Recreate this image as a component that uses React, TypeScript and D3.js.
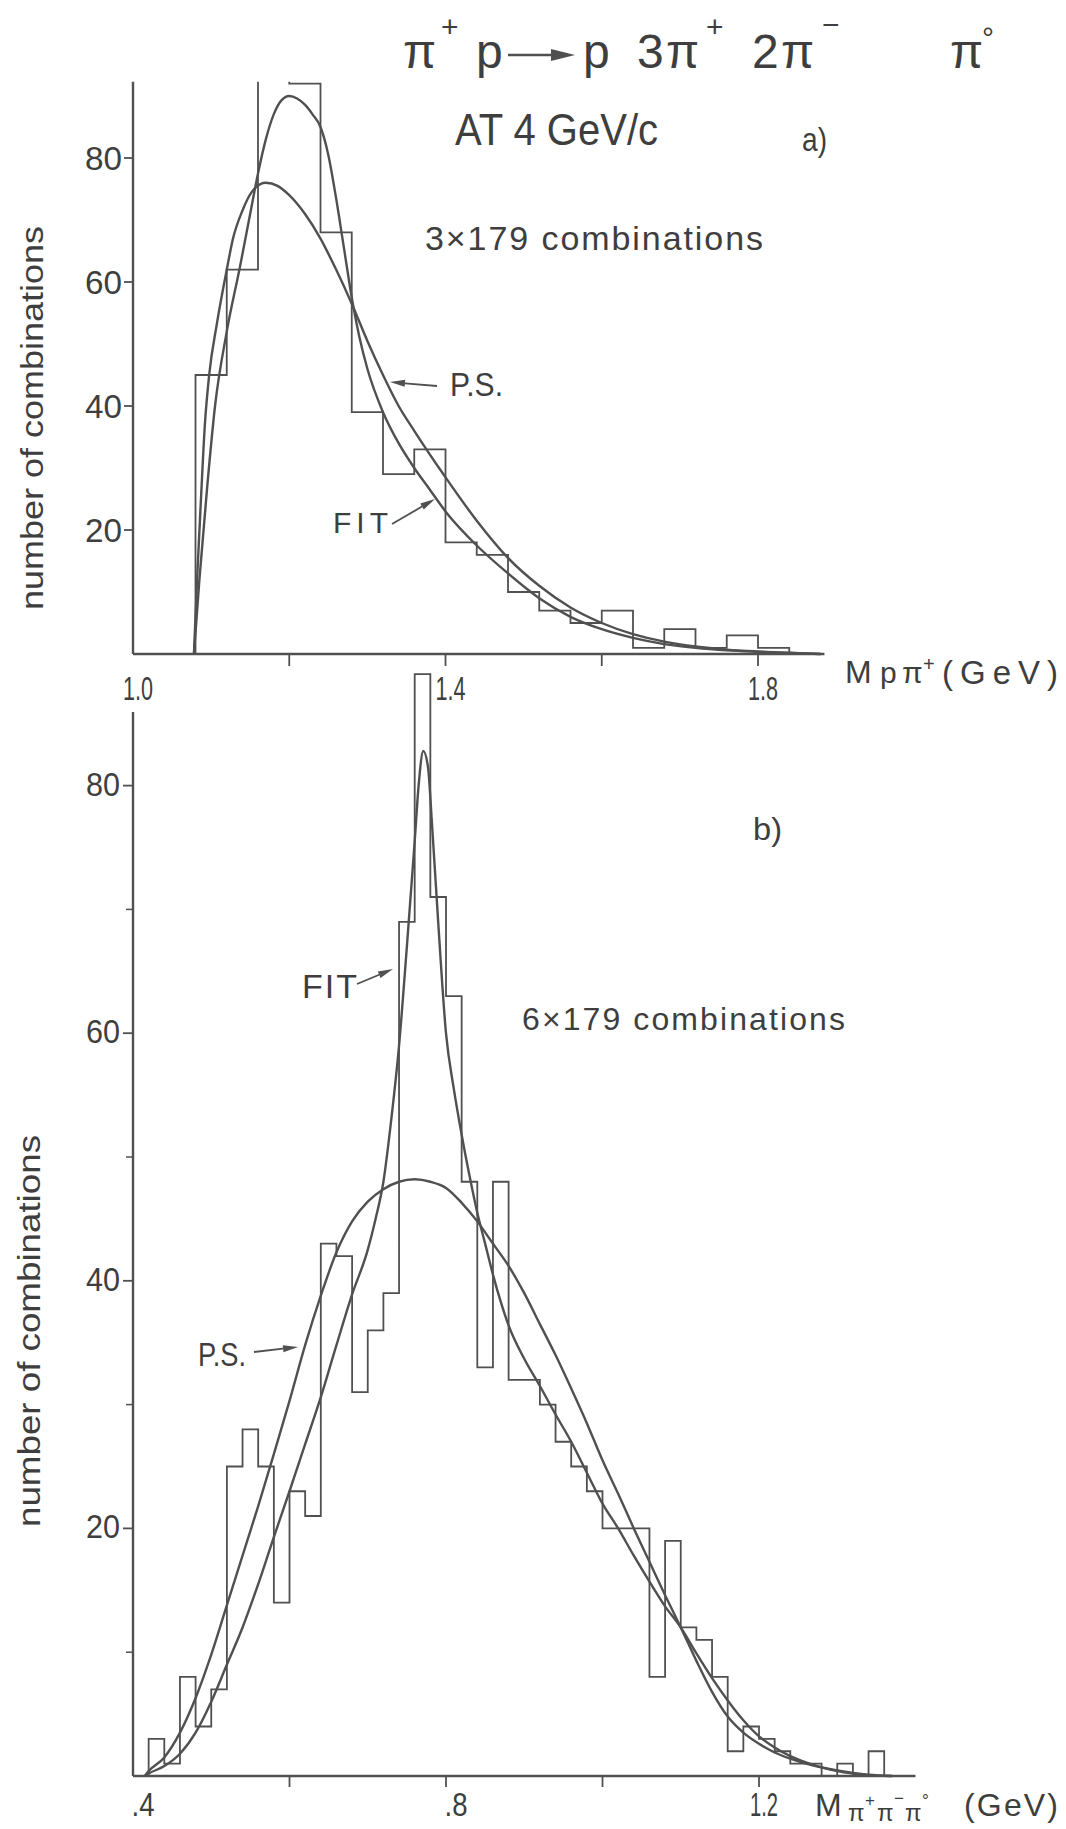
import React from 'react'
import * as d3 from 'd3'

const W = 1066
const H = 1829

// panel a) M(p pi+) , 0.04 GeV bins
const binStartsA = [1.08, 1.12, 1.16, 1.2, 1.24, 1.28, 1.32, 1.36, 1.4, 1.44, 1.48, 1.52, 1.56, 1.6, 1.64, 1.68, 1.72, 1.76, 1.8]
const countsA = [45, 62, 96, 92, 68, 39, 29, 33, 18, 16, 10, 7, 5, 7, 1, 4, 1, 3, 1]
const psXA = [1.078, 1.082, 1.087, 1.092, 1.0975, 1.107, 1.12, 1.128, 1.14, 1.155, 1.17, 1.185, 1.2, 1.22, 1.24, 1.26, 1.28, 1.3, 1.32, 1.34, 1.36, 1.4, 1.44, 1.48, 1.52, 1.56, 1.6, 1.64, 1.68, 1.72, 1.76, 1.8, 1.84, 1.88]
const psYA = [0, 12, 25, 37, 45, 53, 62, 67, 71.5, 75, 76, 75.5, 74, 71, 67, 62, 56.5, 50.5, 45, 40, 36, 28.5, 21.5, 15.5, 11, 7.5, 5, 3.2, 2, 1.2, 0.7, 0.4, 0.2, 0]
const fitXA = [1.078, 1.085, 1.095, 1.105, 1.12, 1.137, 1.15, 1.16, 1.17, 1.18, 1.19, 1.2, 1.21, 1.22, 1.23, 1.24, 1.25, 1.26, 1.27, 1.28, 1.29, 1.3, 1.32, 1.34, 1.36, 1.38, 1.4, 1.44, 1.48, 1.52, 1.56, 1.6, 1.64, 1.68, 1.72, 1.76, 1.8, 1.84, 1.88]
const fitYA = [0, 12, 27, 40, 52, 62.5, 71, 77.5, 83, 87, 89.3, 90, 89.6, 88.6, 87, 85, 80.5, 73.5, 65.5, 57.5, 51, 46, 39, 34, 30, 26.5, 23, 17.5, 13, 9, 6, 4, 2.6, 1.6, 1, 0.6, 0.35, 0.15, 0]
const yTicksA = [20, 40, 60, 80]
const xTicksA = [1.2, 1.4, 1.6, 1.8]
const xLabelsA = ['1.0', '1.4', '1.8']
const xLabelValsA = [1.0, 1.4, 1.8]

// panel b) M(pi+ pi- pi0), 0.02 GeV bins
const binStartsB = [0.42, 0.44, 0.46, 0.48, 0.5, 0.52, 0.54, 0.56, 0.58, 0.6, 0.62, 0.64, 0.66, 0.68, 0.7, 0.72, 0.74, 0.76, 0.78, 0.8, 0.82, 0.84, 0.86, 0.88, 0.9, 0.92, 0.94, 0.96, 0.98, 1.0, 1.02, 1.04, 1.06, 1.08, 1.1, 1.12, 1.14, 1.16, 1.18, 1.2, 1.22, 1.24, 1.26, 1.28, 1.3, 1.32, 1.34]
const countsB = [3, 1, 8, 4, 7, 25, 28, 25, 14, 23, 21, 43, 42, 31, 36, 39, 69, 89, 71, 63, 48, 33, 48, 32, 32, 30, 27, 25, 23, 20, 20, 20, 8, 19, 12, 11, 8, 2, 4, 3, 2, 1, 1, 0, 1, 0, 2]
const psXB = [0.415, 0.42, 0.44, 0.46, 0.48, 0.5, 0.52, 0.54, 0.56, 0.58, 0.6, 0.62, 0.64, 0.66, 0.68, 0.7, 0.72, 0.74, 0.76, 0.78, 0.8, 0.82, 0.84, 0.86, 0.88, 0.9, 0.92, 0.94, 0.96, 0.98, 1.0, 1.02, 1.04, 1.06, 1.08, 1.1, 1.12, 1.14, 1.16, 1.18, 1.2, 1.22, 1.24, 1.26, 1.28, 1.3, 1.32, 1.34, 1.37]
const psYB = [0, 0.4, 1.5, 3.5, 6.3, 9.8, 13.8, 17.8, 21.8, 26, 30.3, 34.8, 38.8, 42.3, 44.8, 46.4, 47.4, 48, 48.2, 48, 47.5, 46.3, 44.8, 43, 41.2, 39, 36.5, 34, 31.3, 28.5, 25.5, 22.8, 20, 17.3, 14.6, 12, 9.3, 6.8, 4.8, 3.5, 2.6, 1.9, 1.4, 1, 0.7, 0.45, 0.25, 0.1, 0]
const fitXB = [0.415, 0.42, 0.44, 0.46, 0.48, 0.5, 0.52, 0.54, 0.56, 0.58, 0.6, 0.62, 0.64, 0.66, 0.68, 0.7, 0.71, 0.72, 0.73, 0.74, 0.75, 0.76, 0.765, 0.771, 0.777, 0.782, 0.79, 0.8, 0.81, 0.82, 0.83, 0.84, 0.85, 0.86, 0.87, 0.88, 0.9, 0.92, 0.94, 0.96, 0.98, 1.0, 1.02, 1.04, 1.06, 1.08, 1.1, 1.12, 1.14, 1.16, 1.18, 1.2, 1.22, 1.24, 1.26, 1.28, 1.3, 1.32, 1.34, 1.37]
const fitYB = [0, 0.2, 0.8, 1.8, 3.5, 6, 9, 12, 15.5, 19.3, 23, 26.8, 30.6, 34.8, 38.9, 42.5, 45, 48, 53, 59, 67, 75.5, 80, 82.8, 81.5, 77, 69, 60, 55.5, 51.8, 48.5, 45.5, 43, 40.5, 38.3, 36.4, 33.7, 31.5, 29.2, 27, 24.5, 22, 20, 17.8, 15.7, 13.7, 12, 9.9, 7.9, 6.1, 4.5, 3.2, 2.3, 1.6, 1.1, 0.7, 0.4, 0.2, 0.05, 0]
const yTicksB = [20, 40, 60, 80]
const yMinorB = [10, 30, 50, 70]
const xTicksB = [0.6, 0.8, 1.0, 1.2]
const xLabelsB = ['.4', '.8', '1.2']
const xLabelValsB = [0.4, 0.8, 1.2]

const INK = '#505050'
const TXT = '#3e3e3e'
const FONT = '"Liberation Sans", Arial, sans-serif'

const xA = d3.scaleLinear().domain([1.0, 1.8]).range([133, 758])
const yA = d3.scaleLinear().domain([0, 80]).range([654, 158])
const xB = d3.scaleLinear().domain([0.4, 1.2]).range([133, 759])
const yB = d3.scaleLinear().domain([0, 80]).range([1776, 785.6])

const stepPath = (starts, counts, width, x, y) => {
  const pts = [[x(starts[0]), y(0)]]
  starts.forEach((s, i) => {
    pts.push([x(s), y(counts[i])])
    pts.push([x(s + width), y(counts[i])])
  })
  pts.push([x(starts[starts.length - 1] + width), y(0)])
  return d3.line()(pts)
}

const curvePath = (xs, ys, x, y) =>
  d3
    .line()
    .x((d, i) => x(xs[i]))
    .y(d => y(d))
    .curve(d3.curveMonotoneX)(ys)

const Arrow = ({ x1, y1, x2, y2, len = 15, hw = 3.5, w = 1.8 }) => {
  const a = Math.atan2(y2 - y1, x2 - x1)
  const bx = x2 - len * Math.cos(a)
  const by = y2 - len * Math.sin(a)
  const px = -Math.sin(a) * hw
  const py = Math.cos(a) * hw
  return (
    <g>
      <line x1={x1} y1={y1} x2={bx} y2={by} stroke={INK} strokeWidth={w} />
      <path d={`M${x2},${y2}L${bx + px},${by + py}L${bx - px},${by - py}Z`} fill={INK} />
    </g>
  )
}

const T = ({ x, y, size, len, children, anchor = 'start', rotate = 0, adjust = 'spacingAndGlyphs' }) => (
  <text
    x={x}
    y={y}
    fontSize={size}
    textLength={len}
    lengthAdjust={adjust}
    textAnchor={anchor}
    transform={rotate ? `rotate(${rotate},${x},${y})` : undefined}
  >
    {children}
  </text>
)

const App = () => {
  const topA = yA(92.3)
  return (
    <svg
      width={W}
      height={H}
      style={{ position: 'absolute', left: 0, top: 0, background: '#fff' }}
      fontFamily={FONT}
      fill={TXT}
    >
      <rect width={W} height={H} fill="#fff" />
      <defs>
        <clipPath id="clipA">
          <rect x={0} y={topA} width={W} height={yA(0) - topA + 2} />
        </clipPath>
      </defs>

      {/* title */}
      <g fontSize={48}>
        <text x={403} y={68}>π</text>
        <text x={441} y={37} fontSize={30}>+</text>
        <text x={476} y={68}>p</text>
        <text x={583} y={68}>p</text>
        <text x={637} y={68}>3</text>
        <text x={666} y={68}>π</text>
        <text x={706} y={37} fontSize={30}>+</text>
        <text x={752} y={68}>2</text>
        <text x={781} y={68}>π</text>
        <text x={822} y={35} fontSize={30}>−</text>
        <text x={950} y={68}>π</text>
        <text x={982} y={48} fontSize={30}>°</text>
      </g>
      <Arrow x1={508} y1={55} x2={575} y2={55} len={24} hw={6} w={2.4} />

      {/* ---- panel a ---- */}
      <T x={455} y={145} size={44} len={203}>AT 4 GeV/c</T>
      <T x={802} y={151} size={34} len={25}>a)</T>
      <T x={425} y={250} size={34} len={338} adjust="spacing">3×179 combinations</T>
      <T x={450} y={396} size={33} len={53}>P.S.</T>
      <Arrow x1={437} y1={386} x2={390} y2={382} />
      <T x={333} y={533} size={30} len={55} adjust="spacing">FIT</T>
      <Arrow x1={392} y1={524} x2={435} y2={499} />
      <T x={43} y={418} size={32} len={384} anchor="middle" rotate={-90}>number of combinations</T>

      <g clipPath="url(#clipA)" fill="none">
        <path d={stepPath(binStartsA, countsA, 0.04, xA, yA)} stroke={INK} strokeWidth={1.8} />
        <path d={curvePath(psXA, psYA, xA, yA)} stroke={INK} strokeWidth={2.4} />
        <path d={curvePath(fitXA, fitYA, xA, yA)} stroke={INK} strokeWidth={2.4} />
      </g>
      <g stroke={INK} strokeWidth={2.4}>
        <line x1={xA(1.0)} y1={yA(0)} x2={xA(1.0)} y2={topA} />
        <line x1={xA(1.0)} y1={yA(0)} x2={xA(1.885)} y2={yA(0)} />
        {yTicksA.map(v => (
          <line key={v} x1={xA(1.0) - 9} x2={xA(1.0)} y1={yA(v)} y2={yA(v)} strokeWidth={1.8} />
        ))}
        {xTicksA.map(v => (
          <line key={v} x1={xA(v)} x2={xA(v)} y1={yA(0)} y2={yA(0) + 12} strokeWidth={1.8} />
        ))}
      </g>
      {yTicksA.map(v => (
        <T key={v} x={122} y={yA(v) + 12} size={34} len={37} anchor="end">{String(v)}</T>
      ))}
      {xLabelsA.map((s, i) => (
        <T key={s} x={xA(xLabelValsA[i]) + 5} y={700} size={34} len={30} anchor="middle">{s}</T>
      ))}
      <g>
        <text x={845} y={683} fontSize={32}>M</text>
        <text x={880} y={683} fontSize={30}>p</text>
        <text x={902} y={683} fontSize={30}>π</text>
        <text x={923} y={671} fontSize={20}>+</text>
        <T x={942} y={684} size={33} len={116} adjust="spacing">(GeV)</T>
      </g>

      {/* ---- panel b ---- */}
      <T x={753} y={840} size={32} len={29}>b)</T>
      <T x={522} y={1030} size={32} len={323} adjust="spacing">6×179 combinations</T>
      <T x={302} y={998} size={34} len={55} adjust="spacing">FIT</T>
      <Arrow x1={357} y1={984} x2={393} y2={969} />
      <T x={198} y={1366} size={34} len={48}>P.S.</T>
      <Arrow x1={254} y1={1352} x2={298} y2={1347} />
      <T x={40} y={1331} size={32} len={392} anchor="middle" rotate={-90}>number of combinations</T>

      <g fill="none">
        <path d={stepPath(binStartsB, countsB, 0.02, xB, yB)} stroke={INK} strokeWidth={1.8} />
        <path d={curvePath(psXB, psYB, xB, yB)} stroke={INK} strokeWidth={2.4} />
        <path d={curvePath(fitXB, fitYB, xB, yB)} stroke={INK} strokeWidth={2.4} />
      </g>
      <g stroke={INK} strokeWidth={2.4}>
        <line x1={xB(0.4)} y1={yB(0)} x2={xB(0.4)} y2={712} />
        <line x1={xB(0.4)} y1={yB(0)} x2={xB(1.4)} y2={yB(0)} />
        {yTicksB.map(v => (
          <line key={v} x1={xB(0.4) - 10} x2={xB(0.4)} y1={yB(v)} y2={yB(v)} strokeWidth={1.8} />
        ))}
        {yMinorB.map(v => (
          <line key={v} x1={xB(0.4) - 7} x2={xB(0.4)} y1={yB(v)} y2={yB(v)} strokeWidth={1.5} />
        ))}
        {xTicksB.map(v => (
          <line key={v} x1={xB(v)} x2={xB(v)} y1={yB(0)} y2={yB(0) + 11} strokeWidth={1.8} />
        ))}
      </g>
      {yTicksB.map(v => (
        <T key={v} x={120} y={yB(v) + 10} size={34} len={34} anchor="end">{String(v)}</T>
      ))}
      {xLabelsB.map((s, i) => (
        <T key={s} x={xB(xLabelValsB[i]) + (s.length < 3 ? 10 : 5)} y={1816} size={33} len={s.length < 3 ? 23 : 28} anchor="middle">{s}</T>
      ))}
      <g>
        <text x={815} y={1816} fontSize={32}>M</text>
        <text x={848} y={1821} fontSize={24}>π</text>
        <text x={865} y={1806} fontSize={17}>+</text>
        <text x={877} y={1821} fontSize={24}>π</text>
        <text x={894} y={1804} fontSize={17}>−</text>
        <text x={905} y={1821} fontSize={24}>π</text>
        <text x={922} y={1806} fontSize={17}>°</text>
        <T x={964} y={1816} size={32} len={94} adjust="spacing">(GeV)</T>
      </g>
    </svg>
  )
}

export default App
